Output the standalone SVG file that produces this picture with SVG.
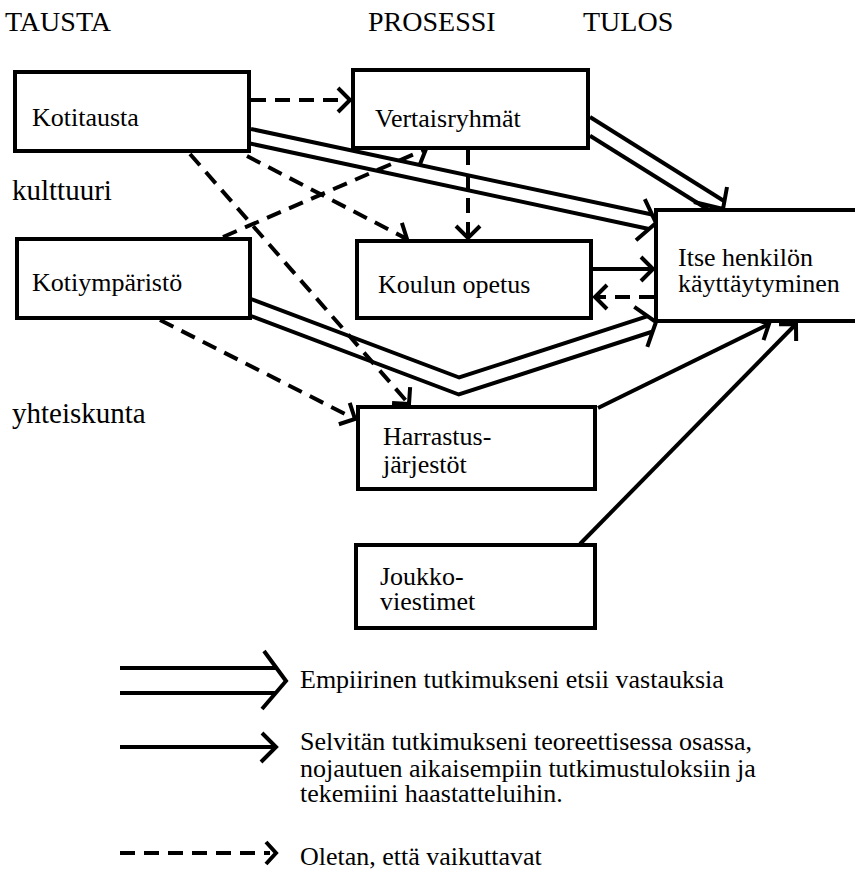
<svg xmlns="http://www.w3.org/2000/svg" width="855" height="875" viewBox="0 0 855 875">
<style>
text{font-family:"Liberation Serif","Times New Roman",serif;font-size:26px;fill:#000}
.big{font-size:29px}
.hdg{font-size:28px}
.box{fill:#fff;stroke:#000;stroke-width:4}
.ln{fill:none;stroke:#000;stroke-width:4}
.dash{fill:none;stroke:#000;stroke-width:4;stroke-dasharray:15 9}
.hd{fill:none;stroke:#000;stroke-width:4;stroke-linejoin:miter}
</style>
<defs>
<marker id="ah" markerUnits="userSpaceOnUse" viewBox="-20 -16 24 32" refX="0" refY="0" markerWidth="24" markerHeight="32" orient="auto" overflow="visible">
<path d="M-12,-12 L0,0 L-12,12" fill="none" stroke="#000" stroke-width="4"/>
</marker>
</defs>
<rect width="855" height="875" fill="#fff"/>
<g id="headings">
<text class="hdg" x="5" y="31">TAUSTA</text>
<text class="hdg" x="368" y="31">PROSESSI</text>
<text class="hdg" x="583" y="31">TULOS</text>
<text class="big" x="12" y="200">kulttuuri</text>
<text class="big" x="12" y="423">yhteiskunta</text>
</g>
<g id="connectors">
<line class="dash" x1="251" y1="100" x2="350" y2="100" marker-end="url(#ah)"/>
<line class="dash" x1="468" y1="150" x2="468" y2="238" marker-end="url(#ah)"/>
<line class="dash" x1="654" y1="297" x2="595" y2="297" marker-end="url(#ah)"/>
<line class="dash" x1="247" y1="156" x2="407" y2="239" marker-end="url(#ah)"/>
<line class="dash" x1="223" y1="237" x2="426" y2="149" marker-end="url(#ah)"/>
<line class="dash" x1="190" y1="154" x2="409" y2="404" marker-end="url(#ah)"/>
<line class="dash" x1="160" y1="320" x2="355" y2="419" marker-end="url(#ah)"/>
<line class="ln" x1="593" y1="269" x2="653" y2="269" marker-end="url(#ah)"/>
<line class="ln" x1="598" y1="408" x2="769" y2="324" marker-end="url(#ah)"/>
<line class="ln" x1="580" y1="544" x2="796" y2="324" marker-end="url(#ah)"/>
<line class="ln" x1="251" y1="129" x2="652" y2="214.5"/>
<line class="ln" x1="250" y1="143.5" x2="649" y2="229"/>
<polyline class="hd" points="644.8,199.1 656,223 636,240.2"/>
<line class="ln" x1="590" y1="117" x2="724" y2="201"/>
<line class="ln" x1="590" y1="135.7" x2="708" y2="209.5"/>
<polyline class="hd" points="727,187 723,209 694,202"/>
<polyline class="ln" points="251,299 459.2,377.5 647.8,316.2"/>
<polyline class="ln" points="251,316 458.8,394.5 652.8,331.5"/>
<polyline class="hd" points="634.3,306.9 656,322 647.3,346.9"/>
</g>
<g id="kotitausta"><rect class="box" x="15" y="72" width="234" height="79"/><text x="32" y="126">Kotitausta</text></g>
<g id="vertaisryhmat"><rect class="box" x="353" y="70" width="235" height="78"/><text x="375" y="127">Vertaisryhmät</text></g>
<g id="kotiymparisto"><rect class="box" x="17" y="239" width="233" height="79"/><text x="32" y="291">Kotiympäristö</text></g>
<g id="koulun"><rect class="box" x="357" y="241" width="234" height="77"/><text x="378" y="293">Koulun opetus</text></g>
<g id="itse"><rect class="box" x="656" y="210" width="204" height="111"/><text x="678" y="266">Itse henkilön</text><text x="678" y="292">käyttäytyminen</text></g>
<g id="harrastus"><rect class="box" x="358" y="407" width="237" height="82"/><text x="383" y="445">Harrastus-</text><text x="383" y="473">järjestöt</text></g>
<g id="joukko"><rect class="box" x="356" y="545" width="239" height="83"/><text x="380" y="585">Joukko-</text><text x="380" y="610">viestimet</text></g>
<g id="legend">
<line class="ln" x1="120" y1="668" x2="276" y2="668"/>
<line class="ln" x1="120" y1="693" x2="276" y2="693"/>
<polyline class="hd" points="264,651 286,681 262,709"/>
<line class="ln" x1="120" y1="747" x2="276" y2="747"/>
<polyline class="hd" points="262,733 276,747 261,762"/>
<line class="dash" x1="120" y1="853" x2="270" y2="853"/>
<polyline class="hd" points="266,842 276,853 266,864"/>
<text x="300" y="688">Empiirinen tutkimukseni etsii vastauksia</text>
<text x="300" y="750">Selvitän tutkimukseni teoreettisessa osassa,</text>
<text x="300" y="777">nojautuen aikaisempiin tutkimustuloksiin ja</text>
<text x="300" y="802">tekemiini haastatteluihin.</text>
<text x="300" y="865">Oletan, että vaikuttavat</text>
</g>
</svg>
